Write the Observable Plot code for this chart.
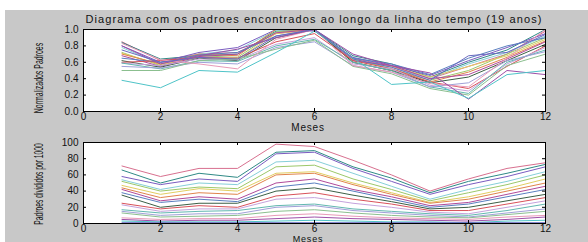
<!DOCTYPE html>
<html><head><meta charset="utf-8">
<script src="https://cdn.jsdelivr.net/npm/d3@7"></script>
<script src="https://cdn.jsdelivr.net/npm/@observablehq/plot@0.6"></script>
<style>
html,body{margin:0;padding:0;background:#fff;width:588px;height:242px;overflow:hidden;font-family:"Liberation Sans",Arial,sans-serif;}
#bg{position:absolute;left:5px;top:10px;width:583px;height:232px;background:#c8c8c8;}
#top,#bot{position:absolute;left:0;}
#top{top:0;} #bot{top:131px;}
#title{position:absolute;left:83px;width:462px;top:13px;text-align:center;font-size:11px;letter-spacing:1.1px;color:#111;white-space:nowrap;}
svg{overflow:visible}
</style></head><body>
<div id="bg"></div>
<div id="title">Diagrama com os padroes encontrados ao longo da linha do tempo (19 anos)</div>
<div id="top"></div>
<div id="bot"></div>
<script>
const titleText = "Diagrama com os padroes encontrados ao longo da linha do tempo (19 anos)";
const xLabel = "Meses";
const yLabelTop = "Normalizados Padroes";
const yLabelBottom = "Padroes divididos por 1000";
const months = [1,2,3,4,5,6,7,8,9,10,11,12];
const xTicks = [0,2,4,6,8,10,12];
const yTicksTop = [0,0.2,0.4,0.6,0.8,1];
const yTicksBottom = [0,20,40,60,80,100];
const colors = ["#d8708f","#2f8a86","#7a5cc0","#86cfd9","#9cc86a","#e2cd62","#e0844c","#b04a9a","#5a7fc0",
                "#3c5f46","#d9525a","#c5a2dc","#62b8b0","#a0a0d8","#8bbf8f","#e89ab8","#9e4fa8","#4fc4c8","#6a6ac0"];

// normalized patterns (top panel), one row per year
const normalized = [
 [0.85,0.62,0.70,0.72,0.95,1.00,0.65,0.55,0.40,0.55,0.70,0.98],
 [0.84,0.64,0.68,0.70,0.98,1.00,0.68,0.58,0.42,0.60,0.75,1.00],
 [0.80,0.60,0.72,0.78,1.00,0.98,0.66,0.56,0.44,0.62,0.78,0.95],
 [0.78,0.58,0.70,0.75,0.99,1.00,0.62,0.54,0.40,0.58,0.72,0.92],
 [0.72,0.56,0.68,0.66,0.97,1.00,0.64,0.52,0.38,0.50,0.70,0.90],
 [0.71,0.57,0.66,0.64,0.95,1.00,0.63,0.55,0.42,0.55,0.68,0.88],
 [0.70,0.58,0.70,0.68,1.00,0.99,0.60,0.50,0.36,0.48,0.66,0.86],
 [0.68,0.55,0.67,0.70,0.96,1.00,0.62,0.56,0.40,0.45,0.64,0.85],
 [0.65,0.60,0.69,0.72,0.92,1.00,0.65,0.58,0.45,0.65,0.80,0.90],
 [0.62,0.54,0.65,0.62,0.90,1.00,0.60,0.50,0.35,0.42,0.62,0.82],
 [0.60,0.62,0.66,0.65,0.85,0.95,0.62,0.52,0.36,0.28,0.55,0.80],
 [0.59,0.56,0.64,0.63,0.82,0.90,0.58,0.52,0.32,0.25,0.58,0.78],
 [0.59,0.52,0.62,0.61,0.80,0.88,0.60,0.50,0.30,0.22,0.60,0.75],
 [0.55,0.53,0.60,0.58,0.78,0.85,0.56,0.48,0.30,0.35,0.62,0.73],
 [0.50,0.50,0.62,0.64,0.76,0.87,0.55,0.46,0.28,0.20,0.56,0.70],
 [0.83,0.63,0.58,0.52,0.88,1.00,0.56,0.48,0.34,0.30,0.65,1.00],
 [0.80,0.58,0.68,0.76,0.90,1.00,0.70,0.56,0.47,0.15,0.50,0.45],
 [0.38,0.29,0.50,0.48,0.72,0.98,0.65,0.33,0.36,0.16,0.45,0.50],
 [0.75,0.60,0.66,0.64,0.92,1.00,0.64,0.54,0.38,0.68,0.72,0.94]
];

// patterns divided by 1000 (bottom panel), one row per year
const per1000 = [
 [71,58,68,68,98,95,78,60,40,55,68,75],
 [66,50,62,57,88,90,70,56,38,52,62,73],
 [58,48,55,52,86,88,68,52,36,48,58,70],
 [54,42,50,48,76,78,62,46,30,42,52,64],
 [52,40,45,43,70,72,55,42,28,38,48,60],
 [47,36,43,40,62,64,50,38,26,33,43,55],
 [44,32,38,36,60,62,48,36,25,30,40,50],
 [42,28,33,30,50,55,42,33,22,26,36,46],
 [38,26,30,27,45,50,40,30,20,24,33,42],
 [35,20,25,25,40,44,35,27,18,20,28,36],
 [25,18,22,20,34,38,30,24,16,16,24,32],
 [23,15,18,18,30,32,25,20,14,12,20,28],
 [17,13,15,16,22,24,18,15,12,10,16,24],
 [15,10,12,12,20,22,16,13,10,8,13,18],
 [13,8,9,10,15,17,13,10,8,7,11,15],
 [7,5,6,6,10,12,9,7,6,5,8,10],
 [5,3,4,4,6,8,6,5,4,3,5,8],
 [3,2,2,2,3,4,3,2,2,1,3,4],
 [1,1,1,1,1,1,1,1,1,1,1,1]
];

function toRows(table){
  const rows=[];
  table.forEach((s,i)=>s.forEach((v,j)=>rows.push({serie:i,mes:months[j],v})));
  return rows;
}

const font = "10px 'Liberation Sans', Arial, sans-serif";
const W = 588, ML = 83, MR = 43;
const TICK = 3;

function panel(rows, yDomain, yTicks, opts){
  const innerH = opts.height - opts.mt - opts.mb;
  const innerW = W - ML - MR;
  return Plot.plot({
    width:W, height:opts.height,
    marginLeft:ML, marginRight:MR, marginTop:opts.mt, marginBottom:opts.mb,
    style:{background:"transparent", font, color:"#111", overflow:"visible"},
    x:{domain:[0,12], ticks:xTicks},
    y:{domain:yDomain, ticks:yTicks},
    color:{domain:d3.range(colors.length), range:colors},
    marks:[
      Plot.frame({fill:"white", stroke:"none"}),
      Plot.line(rows,{x:"mes",y:"v",z:"serie",stroke:"serie",strokeWidth:1}),
      Plot.axisX({anchor:"bottom", ticks:xTicks, tickSize:0, tickPadding:1, label:null, fontSize:10}),
      Plot.axisY({anchor:"left", ticks:yTicks, tickSize:0, tickPadding:5, label:null, fontSize:10}),
      Plot.tickX(xTicks,{x:d=>d, insetTop:innerH-TICK, stroke:"#000"}),
      Plot.tickX(xTicks,{x:d=>d, insetBottom:innerH-TICK, stroke:"#000"}),
      Plot.tickY(yTicks,{y:d=>d, insetRight:innerW-TICK, stroke:"#000"}),
      Plot.tickY(yTicks,{y:d=>d, insetLeft:innerW-TICK, stroke:"#000"}),
      Plot.frame({stroke:"#000", strokeWidth:1})
    ]
  });
}

const topSvg = panel(toRows(normalized),[0,1],yTicksTop,{height:131,mt:29,mb:20});
const botSvg = panel(toRows(per1000),[0,100],yTicksBottom,{height:111,mt:11,mb:19});
document.getElementById("top").appendChild(topSvg);
document.getElementById("bot").appendChild(botSvg);

function addLabels(svg, yl, ylCenterY, sx, xlY, xlSize){
  const s = d3.select(svg);
  s.append("text").attr("x",308).attr("y",xlY).attr("text-anchor","middle")
    .attr("fill","#111").style("font",`${xlSize}px 'Liberation Sans', Arial, sans-serif`).style("letter-spacing","0.8px").text(xLabel);
  s.append("text").attr("transform",`translate(43,${ylCenterY}) rotate(-90) scale(${sx},1)`).attr("text-anchor","middle")
    .attr("fill","#111")
    .style("font","12px 'Liberation Sans', Arial, sans-serif").text(yl);
}
addLabels(topSvg, yLabelTop, 78, 0.58, 131, 10);
addLabels(botSvg, yLabelBottom, 53, 0.56, 110.5, 9);
</script>
</body></html>
